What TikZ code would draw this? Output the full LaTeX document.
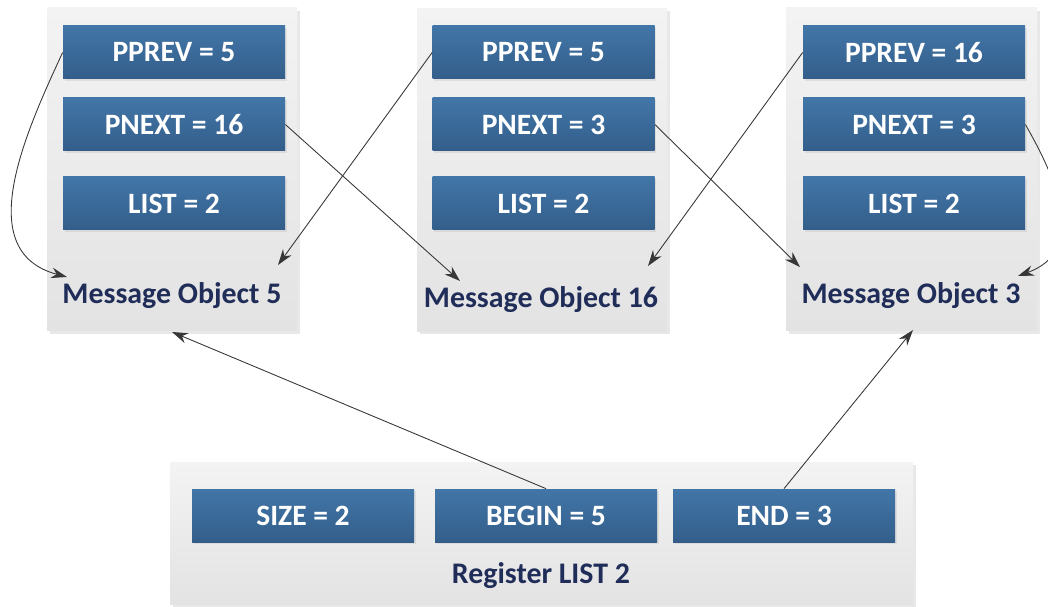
\documentclass[tikz,border=0pt]{standalone}
\usepackage{fontspec}
\setmainfont{Carlito}
\usetikzlibrary{shadows,arrows.meta}

\definecolor{fieldtop}{RGB}{66,118,168}
\definecolor{fieldbot}{RGB}{51,94,138}
\definecolor{paneltop}{RGB}{243,243,243}
\definecolor{panelbot}{RGB}{227,227,227}
\definecolor{capblue}{RGB}{31,45,88}
\definecolor{wire}{RGB}{55,55,55}

\begin{document}
\begin{tikzpicture}[
		panel/.style={minimum width=5cm, minimum height=6.46cm, inner sep=0pt,
			top color=paneltop, bottom color=panelbot,
			drop shadow={opacity=0.18, shadow xshift=1.5pt, shadow yshift=-1.5pt}},
		field/.style={minimum width=4.44cm, minimum height=1.06cm, inner sep=0pt,
			top color=fieldtop, bottom color=fieldbot, text=white,
			font=\bfseries\fontsize{16.8}{19}\selectfont,
			drop shadow={opacity=0.15, shadow xshift=1pt, shadow yshift=-1pt}},
		caption/.style={text=capblue, font=\bfseries\fontsize{17}{19}\selectfont},
		link/.style={-{Stealth[length=9pt,width=6pt]}, draw=wire, line width=0.5pt}
	]
	\useasboundingbox (0,0) rectangle (20.96,12.12);
	% message objects
	\node[panel] (obj5) at (3.44, 8.73) {};
	\node[panel] (obj16) at (10.84, 8.72) {};
	\node[panel, minimum width=5.02cm] (obj3) at (18.23, 8.73) {};
	\node[field] (pprev5) at (3.48, 11.07) {PPREV = 5};
	\node[field] (pnext5) at (3.48, 9.63) {PNEXT = 16};
	\node[field] (list5) at (3.48, 8.05) {LIST = 2};
	\node[caption] (cap5) at (3.44, 6.2) {Message Object 5};
	\node[field] (pprev16) at (10.87, 11.07) {PPREV = 5};
	\node[field] (pnext16) at (10.87, 9.63) {PNEXT = 3};
	\node[field] (list16) at (10.87, 8.05) {LIST = 2};
	\node[caption] (cap16) at (10.82, 6.12) {Message Object 16};
	\node[field] (pprev3) at (18.28, 11.07) {PPREV = 16};
	\node[field] (pnext3) at (18.28, 9.63) {PNEXT = 3};
	\node[field] (list3) at (18.28, 8.05) {LIST = 2};
	\node[caption] (cap3) at (18.22, 6.2) {Message Object 3};
	% register
	\node[panel, minimum width=14.86cm, minimum height=2.84cm] (reg) at (10.83, 1.46) {};
	\node[field] (size) at (6.06, 1.81) {SIZE = 2};
	\node[field] (begin) at (10.92, 1.81) {BEGIN = 5};
	\node[field] (end) at (15.68, 1.81) {END = 3};
	\node[caption] (capreg) at (10.82, 0.6) {Register LIST 2};
	% arrow ends
	\coordinate (in5a) at (1.34, 6.58);
	\coordinate (in5b) at (5.56, 6.82);
	\coordinate (in5c) at (3.44, 5.48);
	\coordinate (in16a) at (9.2, 6.5);
	\coordinate (in16b) at (12.96, 6.8);
	\coordinate (in3a) at (16.0, 6.78);
	\coordinate (in3b) at (20.36, 6.6);
	\coordinate (in3c) at (18.26, 5.52);
	\draw[link] (pprev5.west) to[out=-115, in=165, looseness=1.1] (in5a);
	\draw[link] (pnext5.east) -- (in16a);
	\draw[link] (pprev16.west) -- (in5b);
	\draw[link] (pnext16.east) -- (in3a);
	\draw[link] (pprev3.west) -- (in16b);
	\draw[link] (pnext3.east) to[out=-60, in=20, looseness=1.2] (in3b);
	\draw[link] (begin.north) -- (in5c);
	\draw[link] (end.north) -- (in3c);
\end{tikzpicture}
\end{document}
